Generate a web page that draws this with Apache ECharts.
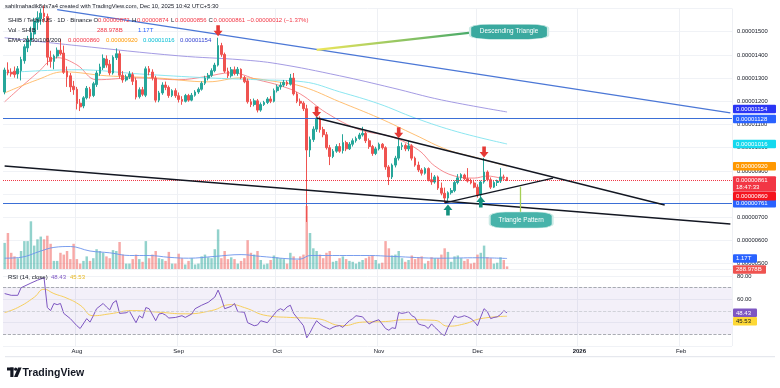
<!DOCTYPE html>
<html><head><meta charset="utf-8">
<script src="https://cdn.jsdelivr.net/npm/echarts@6/dist/echarts.min.js"></script>
<style>html,body{margin:0;padding:0;background:#fff}#c{width:780px;height:388px}</style>
</head><body><div id="c"></div>
<script>
// ---------- DATA (prices in units of 1e-8 USDT, volume in trillions) ----------
const startDate = '2025-07-10', endDate = '2026-02-16';
// [open, close, low, high], one per day from 2025-07-10 to 2025-12-10
const ohlc = [
 // July 10-31
 [1240,1335,1230,1345],[1335,1322,1312,1368],[1325,1318,1306,1342],[1330,1315,1302,1350],[1318,1340,1298,1352],
 [1332,1380,1290,1392],[1375,1435,1362,1446],[1430,1465,1412,1482],[1460,1495,1440,1522],[1490,1545,1468,1560],
 [1540,1560,1508,1588],[1555,1580,1530,1600],[1580,1565,1540,1612],[1565,1390,1355,1578],[1390,1372,1345,1418],
 [1372,1395,1338,1402],[1395,1420,1385,1432],[1420,1405,1398,1468],[1408,1325,1318,1440],[1330,1305,1262,1350],
 [1310,1262,1240,1322],[1265,1250,1228,1288],
 // August
 [1252,1190,1165,1262],[1192,1176,1158,1210],[1180,1215,1170,1222],[1215,1256,1208,1266],[1252,1222,1212,1262],
 [1225,1276,1218,1284],[1272,1322,1262,1332],[1320,1348,1310,1362],[1345,1385,1335,1402],[1382,1356,1345,1398],
 [1360,1322,1312,1378],[1322,1390,1315,1398],[1388,1405,1378,1428],[1405,1312,1298,1418],[1312,1292,1280,1330],
 [1292,1305,1285,1315],[1305,1318,1296,1330],[1315,1286,1270,1325],[1290,1218,1208,1302],[1220,1250,1212,1260],
 [1250,1230,1222,1262],[1226,1340,1218,1350],[1340,1326,1312,1352],[1326,1302,1290,1338],[1300,1205,1195,1310],
 [1205,1236,1196,1245],[1236,1270,1228,1282],[1270,1260,1248,1285],[1260,1225,1215,1268],[1225,1246,1218,1252],
 [1246,1224,1215,1256],
 // September
 [1224,1208,1195,1238],[1208,1200,1185,1222],[1200,1225,1195,1232],[1225,1205,1198,1232],[1205,1226,1200,1236],
 [1226,1240,1220,1248],[1240,1252,1232,1260],[1252,1278,1246,1286],[1278,1300,1270,1310],[1300,1312,1290,1322],
 [1312,1332,1305,1342],[1332,1356,1325,1366],[1356,1440,1350,1474],[1440,1402,1392,1452],[1402,1330,1322,1410],
 [1330,1310,1300,1345],[1310,1336,1302,1348],[1336,1320,1312,1350],[1320,1338,1310,1348],[1338,1302,1295,1342],
 [1302,1284,1278,1310],[1288,1198,1190,1298],[1198,1186,1175,1210],[1186,1202,1178,1212],[1202,1162,1152,1210],
 [1162,1186,1155,1195],[1186,1195,1180,1202],[1195,1210,1188,1218],[1210,1200,1192,1222],[1200,1246,1195,1255],
 // October
 [1246,1262,1238,1272],[1262,1270,1250,1282],[1270,1282,1262,1292],[1282,1274,1266,1290],[1274,1300,1268,1318],
 [1300,1232,1225,1322],[1232,1200,1192,1240],[1200,1192,1180,1212],[1192,1168,1158,1200],[1168,990,680,1185],
 [990,1035,960,1048],[1035,1080,1025,1092],[1080,1128,1068,1142],[1128,1078,1065,1135],[1078,1056,1045,1090],
 [1056,1000,992,1068],[1000,962,925,1012],[962,985,955,994],[985,1005,978,1015],[1005,985,978,1020],
 [988,1022,975,1058],[1022,995,985,1030],[995,1015,990,1024],[1015,1030,1005,1040],[1030,1040,1022,1048],
 [1040,1055,1034,1064],[1055,1062,1048,1090],[1062,1030,1020,1070],[1030,1005,995,1040],[1005,975,965,1012],
 [975,995,968,1004],
 // November
 [995,1015,988,1022],[1015,1000,992,1020],[1000,917,905,1006],[917,874,839,925],[874,925,865,932],
 [925,955,915,965],[955,1005,945,1046],[1005,1010,990,1022],[1010,995,985,1018],[995,1008,985,1030],
 [1008,955,945,1015],[955,925,918,962],[925,904,895,940],[904,890,880,912],[890,910,884,916],
 [910,862,855,915],[862,852,840,892],[852,874,845,882],[874,826,818,880],[826,804,795,850],
 [804,783,761,828],[783,806,770,812],[806,815,798,826],[815,850,808,858],[850,870,842,886],
 [870,884,858,890],[882,866,860,888],[866,856,850,912],[856,848,842,866],[848,830,825,862],
 // December 1-10
 [830,796,785,842],[796,852,783,858],[852,895,845,956],[895,862,855,902],[862,830,822,872],
 [830,850,826,856],[850,856,835,862],[856,874,848,912],[874,872,862,884],[872,861,856,874]
];
const volume = [
 2.9,4.0,1.8,1.4,1.2,2.0,3.1,3.1,5.3,2.6,3.3,3.6,3.3,3.7,2.8,0.9,0.9,1.8,1.6,2.0,1.1,2.8,
 1.1,0.6,0.9,1.4,0.9,1.2,2.2,2.0,1.8,1.4,1.2,2.1,2.0,3.0,1.6,0.6,0.6,1.1,1.6,1.1,0.8,3.1,1.2,1.6,2.0,1.2,1.1,0.9,1.9,0.6,0.6,
 1.7,1.2,0.5,0.9,1.2,0.5,0.6,1.4,1.6,1.3,1.2,2.2,4.4,1.2,2.0,1.1,1.3,1.1,0.6,0.9,1.2,3.2,1.8,1.6,2.0,1.0,0.5,0.6,1.0,1.5,
 1.3,1.2,1.1,0.6,1.8,1.4,1.0,1.4,1.6,7.0,4.0,2.3,2.0,1.6,1.2,1.8,2.0,0.8,0.9,1.2,1.4,1.1,0.9,0.8,0.6,0.8,1.0,1.2,1.4,1.5,1.0,
 0.6,0.7,3.1,2.3,1.5,1.6,2.0,1.2,0.8,1.0,1.5,1.1,1.3,1.4,0.6,0.9,1.3,1.2,1.2,1.6,2.3,1.9,0.8,1.4,1.5,1.2,0.9,1.1,0.6,0.7,
 1.6,1.8,2.6,1.3,1.2,0.6,0.7,1.3,1.0,0.289
];
const volumeMA = [['2025-07-10',1.2],['2025-07-15',1.3],['2025-07-21',2.0],['2025-07-25',2.4],['2025-07-30',2.5],
 ['2025-08-05',2.0],['2025-08-11',1.8],['2025-08-17',1.5],['2025-08-23',1.5],['2025-08-29',1.3],['2025-09-04',1.2],
 ['2025-09-12',1.4],['2025-09-20',1.6],['2025-09-26',1.4],['2025-10-08',1.1],['2025-10-11',1.5],['2025-10-29',1.5],
 ['2025-11-05',1.4],['2025-11-20',1.2],['2025-12-01',1.25],['2025-12-10',1.17]];
const ema20 = [['2025-07-10',1198],['2025-07-20',1323],['2025-07-26',1388],['2025-08-01',1357],['2025-08-07',1293],
 ['2025-08-19',1301],['2025-09-01',1293],['2025-09-09',1306],['2025-09-17',1323],['2025-09-25',1293],['2025-10-02',1267],
 ['2025-10-08',1232],['2025-10-16',1150],['2025-10-26',1078],['2025-11-05',1046],['2025-11-13',990],['2025-11-18',921],
 ['2025-11-24',878],['2025-11-30',869],['2025-12-04',878],['2025-12-10',860]];
const ema50 = [['2025-07-10',1236],['2025-07-20',1293],['2025-07-28',1327],['2025-08-10',1310],['2025-08-25',1301],
 ['2025-09-10',1284],['2025-09-20',1301],['2025-10-01',1284],['2025-10-09',1262],['2025-10-20',1198],['2025-11-01',1128],
 ['2025-11-12',1055],['2025-11-22',990],['2025-12-01',956],['2025-12-10',920]];
const ema100 = [['2025-07-10',1323],['2025-08-01',1336],['2025-08-20',1318],['2025-09-10',1301],['2025-09-25',1293],
 ['2025-10-09',1284],['2025-10-20',1241],['2025-11-01',1189],['2025-11-12',1128],['2025-11-25',1068],['2025-12-10',1016]];
const ema200 = [['2025-07-10',1474],['2025-08-01',1440],['2025-09-01',1396],['2025-09-20',1379],['2025-10-01',1362],
 ['2025-10-20',1310],['2025-11-05',1258],['2025-11-20',1206],['2025-12-10',1154]];
const rsi = [['2025-07-10',65],['2025-07-12',63.5],['2025-07-14',63.5],['2025-07-15',70],['2025-07-18',74],['2025-07-20',76.5],
 ['2025-07-22',78.5],['2025-07-23',53],['2025-07-24',50.4],['2025-07-25',56.5],['2025-07-26',55.5],['2025-07-27',56.5],
 ['2025-07-28',48],['2025-07-30',43.5],['2025-08-01',37.4],['2025-08-02',35],['2025-08-04',43.5],['2025-08-05',40.5],
 ['2025-08-06',46],['2025-08-07',52],['2025-08-09',56.5],['2025-08-10',53.5],['2025-08-11',51],['2025-08-12',57],
 ['2025-08-13',59],['2025-08-14',48],['2025-08-16',48.5],['2025-08-17',50],['2025-08-19',40],['2025-08-20',46],
 ['2025-08-21',44],['2025-08-22',53],['2025-08-23',52],['2025-08-25',41.7],['2025-08-26',47.5],['2025-08-27',48],
 ['2025-08-28',46.5],['2025-08-29',44],['2025-08-31',44.5],['2025-09-02',46],['2025-09-03',44.5],['2025-09-05',47.5],
 ['2025-09-06',52],['2025-09-08',55],['2025-09-10',57.5],['2025-09-12',62],['2025-09-13',68],['2025-09-14',61],
 ['2025-09-15',52],['2025-09-17',54],['2025-09-18',56.5],['2025-09-19',49.5],['2025-09-21',49],['2025-09-22',40],
 ['2025-09-24',37.4],['2025-09-25',38],['2025-09-26',41.7],['2025-09-28',40],['2025-09-29',43.5],['2025-10-01',50.4],
 ['2025-10-02',52],['2025-10-03',50.5],['2025-10-04',53.5],['2025-10-05',55],['2025-10-06',48],['2025-10-07',44.5],
 ['2025-10-08',41],['2025-10-09',37.4],['2025-10-10',27],['2025-10-11',31.5],['2025-10-12',37],['2025-10-13',41.7],
 ['2025-10-14',39],['2025-10-15',37],['2025-10-16',35.7],['2025-10-17',34.4],['2025-10-18',36],['2025-10-19',37],
 ['2025-10-20',37.5],['2025-10-21',36],['2025-10-22',39],['2025-10-23',41.7],['2025-10-24',43.5],['2025-10-25',46],
 ['2025-10-27',45],['2025-10-28',41.7],['2025-10-29',39],['2025-10-30',40.5],['2025-10-31',41.7],['2025-11-01',42.5],
 ['2025-11-03',35],['2025-11-04',33.5],['2025-11-05',35.7],['2025-11-06',35],['2025-11-07',48.7],['2025-11-08',48],
 ['2025-11-09',48.5],['2025-11-10',49.5],['2025-11-11',46],['2025-11-12',44.5],['2025-11-13',39],['2025-11-14',38],
 ['2025-11-15',37.4],['2025-11-16',35],['2025-11-17',39],['2025-11-18',36],['2025-11-19',33.5],['2025-11-20',30.4],
 ['2025-11-21',29],['2025-11-22',36],['2025-11-23',41],['2025-11-24',46],['2025-11-25',44.5],['2025-11-26',45],
 ['2025-11-27',46],['2025-11-28',45],['2025-11-29',43.5],['2025-11-30',41],['2025-12-01',37.4],['2025-12-02',45],
 ['2025-12-03',52],['2025-12-04',49.5],['2025-12-05',43.5],['2025-12-06',44.5],['2025-12-07',45],['2025-12-08',47],
 ['2025-12-09',50.4],['2025-12-10',48.43]];
const rsiMA = [['2025-07-10',48.7],['2025-07-14',53],['2025-07-19',61.8],['2025-07-22',68.7],['2025-07-25',65],
 ['2025-07-29',61],['2025-08-02',55],['2025-08-06',46],['2025-08-11',47.6],['2025-08-18',50.4],['2025-08-26',49],
 ['2025-09-03',47.6],['2025-09-11',50.4],['2025-09-17',55.5],['2025-09-21',53],['2025-09-28',46],['2025-10-05',44.5],
 ['2025-10-13',43.5],['2025-10-21',37.4],['2025-10-27',40.5],['2025-11-03',41],['2025-11-09',42.6],['2025-11-18',42],
 ['2025-11-22',37],['2025-11-27',39],['2025-12-02',43.5],['2025-12-10',45.53]];
const levels = [1128, 761];
const lastPrice = 861;
const emaLast = {e20: 860, e50: 920, e100: 1016, e200: 1154};
const trendBlue = [['2025-07-26',1595],['2026-02-16',1150]];
const trendUpper = [['2025-10-13',1128],['2026-01-27',753]];
const trendRising = [['2025-11-21',762],['2025-12-24',869]];
const trendLower = [['2025-07-10',921],['2026-02-16',671]];
const downArrows = [['2025-09-13',1504],['2025-10-13',1154],['2025-11-07',1064],['2025-12-03',982]];
const upArrows = [['2025-11-22',731],['2025-12-02',766]];
const priceTicks = [500,600,700,800,900,1000,1100,1200,1300,1400,1500];
const rsiTicks = [40,60,80];
const MONTHS = ['Jan','Feb','Mar','Apr','May','Jun','Jul','Aug','Sep','Oct','Nov','Dec'];

// ---------- BUILD ----------
const dates = [];
for (let t = Date.parse(startDate+'T00:00:00Z'); t <= Date.parse(endDate+'T00:00:00Z'); t += 864e5)
  dates.push(new Date(t).toISOString().slice(0,10));
const FONT = 'Liberation Sans, Arial, sans-serif';
const UP = '#26a69a', DOWN = '#ef5350';
const fmtP = v => (v/1e8).toFixed(8);

function tag(text, bg, dy, fg, w) {
  return {show:true, position:'end', distance:1, formatter:text, backgroundColor:bg, color:fg||'#fff',
    fontSize:6, fontFamily:FONT, padding:[1,3,0.5,3], width:w||37, lineHeight:7, borderRadius:1, offset:[0, dy||0], opacity:1};
}
function hidden(y, label){ return {yAxis:y, lineStyle:{color:'rgba(0,0,0,0)', width:0.01}, label}; }
function seg(pts, style){ return [{coord:pts[0], lineStyle:style}, {coord:pts[1]}]; }

const mainLines = [
  {yAxis:levels[0], lineStyle:{color:'#3b6fd6', width:1.1, type:'solid'}, label: tag(fmtP(levels[0]), '#2962ff', 1)},
  {yAxis:levels[1], lineStyle:{color:'#3b6fd6', width:1.1, type:'solid'}, label: tag(fmtP(levels[1]), '#2962ff', 0)},
  {yAxis:lastPrice, lineStyle:{color:'#f23645', width:1, type:'dotted'}, label: tag(fmtP(lastPrice)+'\n18:47:33', '#f23645', 4)},
  hidden(emaLast.e20, tag(fmtP(emaLast.e20), '#f5141e', 16)),
  hidden(emaLast.e50, tag(fmtP(emaLast.e50), '#ff9800', 0)),
  hidden(emaLast.e100, tag(fmtP(emaLast.e100), '#14d9ee', 0)),
  hidden(emaLast.e200, tag(fmtP(emaLast.e200), '#2a35f5', -3)),
  seg(trendBlue, {color:'#4b77d6', width:1.1, type:'solid'}),
  seg(trendUpper, {color:'#131722', width:1.4, type:'solid'}),
  seg(trendRising, {color:'#131722', width:1.4, type:'solid'}),
  seg(trendLower, {color:'#131722', width:1.4, type:'solid'}),
  seg([['2025-10-13',1422],['2025-11-29',1496]], {width:2.2, type:'solid', color:{type:'linear',x:0,y:0,x2:1,y2:0,
    colorStops:[{offset:0,color:'#f2e85a'},{offset:1,color:'#43a86a'}]}}),
  seg([['2025-12-14',832],['2025-12-14',722]], {width:1.3, type:'solid', color:'#a5cf55'})
];

const DOWN_ARROW = 'path://M3,0H7V6H10L5,12L0,6H3Z';
const UP_ARROW = 'path://M5,0L10,6H7V12H3V6H0Z';
const points = [
  ...downArrows.map(c => ({coord:c, symbol:DOWN_ARROW, symbolSize:[9,11], itemStyle:{color:'#e53935'}})),
  ...upArrows.map(c => ({coord:c, symbol:UP_ARROW, symbolSize:[9,11], itemStyle:{color:'#14917f'}})),
  {coord:['2025-12-10',1500], symbol:'roundRect', symbolSize:[78,15], symbolOffset:[2,0],
   itemStyle:{color:'#3aa99f', borderColor:'#cdebe6', borderWidth:1},
   label:{show:true, position:'inside', formatter:'Descending Triangle', color:'#fff', fontSize:6.4, fontFamily:FONT}},
  {coord:['2025-12-14',688], symbol:'roundRect', symbolSize:[63,16], symbolOffset:[1,0],
   itemStyle:{color:'#47b3aa', borderColor:'#cdebe6', borderWidth:1},
   label:{show:true, position:'inside', formatter:'Triangle Pattern', color:'#fff', fontSize:6.4, fontFamily:FONT}}
];

function txt(text, left, top, color, size, weight) {
  return {text, left, top, padding:0, textStyle:{fontSize:size||6, color:color||'#131722', fontWeight:weight||'normal', fontFamily:FONT}};
}
const titles = [
  txt('sahilmahadik8ds7a4 created with TradingView.com, Dec 10, 2025 10:42 UTC+5:30', 5, 3.5, '#131722', 5.8),
  txt('SHIB / TetherUS · 1D · Binance', 8, 17.5), txt('O', 93.5, 17.5), txt('0.00000872', 98, 17.5, '#f23645'),
  txt('H', 132, 17.5), txt('0.00000874', 137, 17.5, '#f23645'), txt('L', 171, 17.5), txt('0.00000856', 175, 17.5, '#f23645'),
  txt('C', 208.5, 17.5), txt('0.00000861', 213.5, 17.5, '#f23645'), txt('−0.00000012 (−1.37%)', 247, 17.5, '#f23645'),
  txt('Vol · SHIB', 8, 27.5), txt('288.978B', 97, 27.5, '#f23645'), txt('1.17T', 138, 27.5, '#2962ff'),
  txt('EMA 20/50/100/200', 8, 37.5), txt('0.00000860', 68, 37.5, '#f23645'), txt('0.00000920', 106, 37.5, '#ff9800'),
  txt('0.00001016', 143, 37.5, '#00bcd4'), txt('0.00001154', 180, 37.5, '#2f3fd0'),
  txt('RSI (14, close)', 8, 274.5), txt('48.43', 51, 274.5, '#7e57c2'), txt('45.53', 70, 274.5, '#e8b923')
];

const monthStart = (i, v) => v.slice(8) === '01';
const xBase = (gi, showLabel) => ({
  type:'category', gridIndex:gi, data:dates, boundaryGap:true,
  axisLine:{show:false}, axisTick:{show:false},
  splitLine:{show: gi !== 1, interval: monthStart, lineStyle:{color:'#eef0f4', width:1}},
  axisLabel: showLabel ? {show:true, interval: monthStart, margin:2, fontSize:6, color:'#131722', fontFamily:FONT,
    formatter: v => { const m = +v.slice(5,7); return m === 1 ? '{b|'+v.slice(0,4)+'}' : MONTHS[m-1]; },
    rich:{b:{fontWeight:'bold', fontSize:6, fontFamily:FONT, color:'#131722'}}} : {show:false}
});

const option = {
  animation:false, backgroundColor:'#fff',
  title: titles,
  grid:[
    {left:3, right:48, top:8.5, height:278.4},
    {left:3, right:48, top:197, height:72},
    {left:3, right:48, top:269.1, height:76.9}
  ],
  xAxis:[xBase(0,false), xBase(1,false), xBase(2,true)],
  yAxis:[
    {type:'value', gridIndex:0, position:'right', min:400, max:1600, interval:100, scale:false,
     axisLine:{show:false}, axisTick:{show:false},
     splitLine:{show:true, lineStyle:{color:'#f0f2f6'}},
     axisLabel:{margin:5, fontSize:5.8, color:'#131722', fontFamily:FONT,
       formatter: v => priceTicks.includes(v) ? fmtP(v) : ''}},
    {type:'value', gridIndex:1, min:0, max:8, show:false, splitLine:{show:false}},
    {type:'value', gridIndex:2, position:'right', min:20, max:86, interval:20,
     axisLine:{show:false}, axisTick:{show:false},
     splitLine:{show:true, lineStyle:{color:'#f0f2f6'}},
     axisLabel:{margin:5, fontSize:5.8, color:'#131722', fontFamily:FONT,
       formatter: v => rsiTicks.includes(v) ? v.toFixed(2) : ''}}
  ],
  series:[
    {type:'candlestick', name:'SHIB', xAxisIndex:0, yAxisIndex:0, data:ohlc, barWidth:'68%', clip:false,
     itemStyle:{color:UP, color0:DOWN, borderColor:UP, borderColor0:DOWN, borderWidth:1},
     markLine:{symbol:['none','none'], silent:true, animation:false, label:{show:false}, data:mainLines},
     markPoint:{silent:true, animation:false, label:{show:false}, data:points}, z:3},
    {type:'line', name:'EMA20', xAxisIndex:0, yAxisIndex:0, data:ema20, smooth:0.4, symbol:'none',
     lineStyle:{color:'#f4777c', width:1, opacity:0.85}, z:2},
    {type:'line', name:'EMA50', xAxisIndex:0, yAxisIndex:0, data:ema50, smooth:0.4, symbol:'none',
     lineStyle:{color:'#ffb45a', width:1, opacity:0.85}, z:2},
    {type:'line', name:'EMA100', xAxisIndex:0, yAxisIndex:0, data:ema100, smooth:0.4, symbol:'none',
     lineStyle:{color:'#7fe3ee', width:1, opacity:0.9}, z:2},
    {type:'line', name:'EMA200', xAxisIndex:0, yAxisIndex:0, data:ema200, smooth:0.4, symbol:'none',
     lineStyle:{color:'#9a90e0', width:1, opacity:0.9}, z:2},
    {type:'bar', name:'Volume', xAxisIndex:1, yAxisIndex:1, barWidth:'75%',
     data: volume.map((v,i) => ({value:v, itemStyle:{color: ohlc[i][1] >= ohlc[i][0] ? 'rgba(38,166,154,0.5)' : 'rgba(239,83,80,0.5)'}})), z:1},
    {type:'line', name:'VolMA', xAxisIndex:1, yAxisIndex:1, data:volumeMA, smooth:0.4, symbol:'none',
     lineStyle:{color:'#6b93ec', width:1, opacity:0.9}, z:2,
     markLine:{symbol:['none','none'], silent:true, animation:false,
       data:[hidden(1.17, tag('1.17T','#2962ff',0,'#fff',18)), hidden(0.289, tag('288.978B','#ef5350',3,'#fff',27))]}},
    {type:'line', name:'RSI', xAxisIndex:2, yAxisIndex:2, data:rsi, symbol:'none',
     lineStyle:{color:'#7e57c2', width:1}, z:3,
     markArea:{silent:true, itemStyle:{color:'rgba(126,87,194,0.09)'}, data:[[{yAxis:70},{yAxis:30}]]},
     markLine:{symbol:['none','none'], silent:true, animation:false, label:{show:false},
       lineStyle:{color:'#9598a1', type:'dashed', width:0.8},
       data:[{yAxis:70},{yAxis:50, lineStyle:{color:'#c8cad0', type:'dashed', width:0.8}},{yAxis:30},
             hidden(48.43, tag('48.43','#7e57c2',0,'#fff',18))]}},
    {type:'line', name:'RSI MA', xAxisIndex:2, yAxisIndex:2, data:rsiMA, smooth:0.5, symbol:'none',
     lineStyle:{color:'#f7cf5c', width:1}, z:2,
     markLine:{symbol:['none','none'], silent:true, animation:false,
       data:[hidden(45.53, tag('45.53','#fdd835',5,'#131722',18))]}}
  ],
  graphic:[
    {type:'line', shape:{x1:5, y1:356.7, x2:775, y2:356.7}, style:{stroke:'#e0e3eb', lineWidth:1}, silent:true},
    {type:'group', silent:true, children:[
      {type:'rect', shape:{x:7, y:367.5, width:6.5, height:3}, style:{fill:'#131722'}},
      {type:'rect', shape:{x:10.3, y:367.5, width:3.2, height:9.5}, style:{fill:'#131722'}},
      {type:'circle', shape:{cx:15.7, cy:369.2, r:1.6}, style:{fill:'#131722'}},
      {type:'polygon', shape:{points:[[18,367.5],[21.6,367.5],[17.6,377],[14,377]]}, style:{fill:'#131722'}},
      {type:'text', x:22.5, y:372.7, style:{text:'TradingView', font:'bold 10.5px '+FONT, fill:'#131722', verticalAlign:'middle'}}
    ]}
  ]
};
const chart = echarts.init(document.getElementById('c'), null, {renderer:'canvas'});
chart.setOption(option);
</script></body></html>
